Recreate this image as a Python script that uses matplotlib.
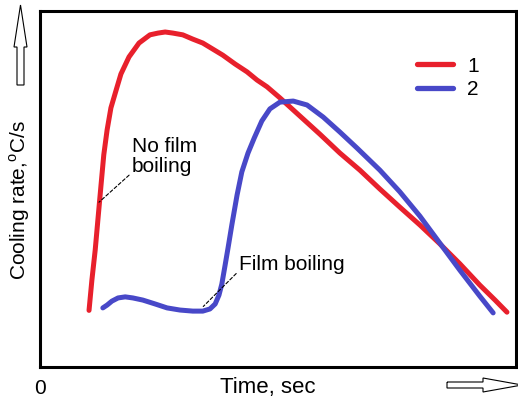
import matplotlib
matplotlib.use("Agg")
import matplotlib.pyplot as plt
from matplotlib.patches import Polygon

plt.rcParams['font.family'] = ['Liberation Sans', 'DejaVu Sans']

#-------------------------------
# DATA (time and cooling rate, arbitrary units 0-100)
#-------------------------------
time_1 = [10.3, 10.9, 11.6, 12.2, 12.8, 13.4, 14.1, 14.9, 16.0, 17.0, 18.7, 20.8,
          23.1, 24.8, 26.3, 27.9, 30.0, 32.1, 34.2, 36.3, 38.4,
          41.0, 43.5, 45.6, 47.7, 50.4, 54.6, 58.8, 63.0, 67.2, 71.4, 75.6, 79.8,
          84.0, 88.2, 92.4, 95.6, 98.1]
rate_1 = [15.9, 24.4, 32.9, 41.9, 50.8, 59.6, 66.6, 72.8, 77.8, 82.3, 87.1, 91.0,
          93.3, 93.8, 94.1, 93.8, 93.3, 92.1, 91.0, 89.3, 87.6,
          85.1, 82.9, 80.6, 78.7, 75.6, 70.5, 65.4, 60.1, 55.3, 50.0, 44.9, 39.9,
          34.6, 29.0, 23.0, 18.8, 15.4]

time_2 = [13.2, 14.1, 15.1, 16.4, 17.9, 19.5, 21.6, 24.2, 26.7, 29.4, 32.1, 34.2,
          35.7, 36.8, 37.6, 38.2, 38.9, 39.5, 40.3, 41.4, 42.4, 43.7, 45.0, 46.6,
          48.3, 50.4, 53.2, 56.1, 59.5, 63.0, 66.6, 71.4, 75.6, 79.8, 84.0, 88.2,
          92.4, 95.2]
rate_2 = [16.6, 17.4, 18.5, 19.4, 19.7, 19.4, 18.8, 17.7, 16.6, 16.0, 15.7, 15.7,
          16.3, 17.7, 20.2, 23.3, 28.7, 33.4, 39.9, 48.3, 54.8, 60.1, 64.3, 69.1,
          72.5, 74.4, 74.7, 73.6, 70.2, 66.0, 61.5, 55.3, 49.2, 42.4, 34.8, 27.2,
          19.9, 15.2]

series_labels = ['1', '2']
series_colors = ['#e8202c', '#4848c8']

W, H = 518, 403

def fx(px):
    return px / W

def fy(py):
    return 1 - py / H

fig = plt.figure(figsize=(W / 100, H / 100), dpi=100)
ax = fig.add_axes([fx(40), fy(367), (516 - 40) / W, (367 - 11) / H])

ax.plot(time_1, rate_1, color=series_colors[0], lw=3.6, solid_capstyle='round',
        solid_joinstyle='round', label=series_labels[0])
ax.plot(time_2, rate_2, color=series_colors[1], lw=3.6, solid_capstyle='round',
        solid_joinstyle='round', label=series_labels[1])

ax.set_xlim(0, 100)
ax.set_ylim(0, 100)
ax.set_xticks([])
ax.set_yticks([])
for s in ax.spines.values():
    s.set_linewidth(2.2)
    s.set_color('black')

#-------------------------------
# ANNOTATIONS
#-------------------------------
ax.annotate('No film\nboiling', xy=(12.4, 46.3), xytext=(19.3, 64.5),
            fontsize=15, va='top', ha='left', linespacing=1.05,
            arrowprops=dict(arrowstyle='-', ls=(0, (3, 2)), lw=0.8, color='black',
                            shrinkA=0, shrinkB=0, relpos=(0.02, 0.12)))
ax.annotate('Film boiling', xy=(34.3, 17.0), xytext=(41.8, 28.9),
            fontsize=15, va='center', ha='left',
            arrowprops=dict(arrowstyle='-', ls=(0, (3, 2)), lw=0.8, color='black',
                            shrinkA=0, shrinkB=0, relpos=(0.0, 0.15)))

leg = ax.legend(loc='upper left', bbox_to_anchor=(0.775, 0.895), frameon=False,
                fontsize=15, handlelength=1.7, handletextpad=0.7, labelspacing=0.2,
                borderaxespad=0)
for ln in leg.get_lines():
    ln.set_linewidth(3.8)

#-------------------------------
# AXIS LABELS
#-------------------------------
fig.text(fx(20), fy(200), 'Cooling rate,$^\\mathregular{o}$C/s', rotation=90,
         ha='center', va='center', fontsize=15)
fig.text(fx(268), fy(388), 'Time, sec', ha='center', va='center', fontsize=16)
fig.text(fx(40), fy(388), '0', ha='center', va='center', fontsize=15)

# hollow arrows
up = [(17, 85), (24, 85), (24, 47), (27, 47), (20.5, 5), (14, 47), (17, 47)]
fig.patches.append(Polygon([(fx(x), fy(y)) for x, y in up], closed=True,
                           fill=False, lw=0.8, ec='black', transform=fig.transFigure))
right = [(447, 382), (483, 382), (483, 378), (522, 385), (483, 392), (483, 388), (447, 388)]
fig.patches.append(Polygon([(fx(x), fy(y)) for x, y in right], closed=True,
                           fill=False, lw=0.8, ec='black', transform=fig.transFigure))

fig.savefig('out.png', dpi=100)
